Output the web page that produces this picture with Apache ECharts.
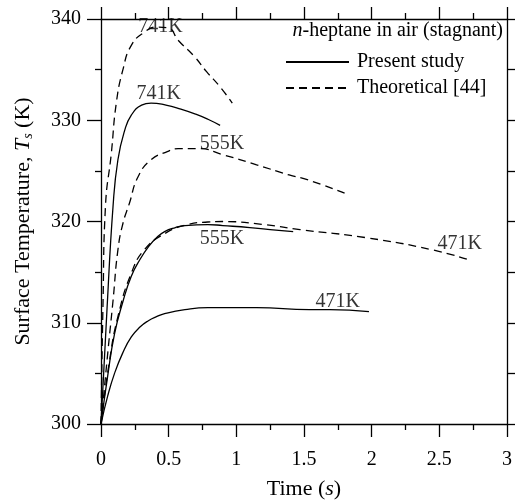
<!DOCTYPE html>
<html>
<head>
<meta charset="utf-8">
<script src="https://cdn.jsdelivr.net/npm/echarts@6/dist/echarts.min.js"></script>
<style>
  html, body { margin: 0; padding: 0; background: #fff; }
  #chart { width: 515px; height: 500px; }
</style>
</head>
<body>
<div id="chart"></div>
<script>
// surface temperature curves [time (s), Ts (K)]
var present741 = [[0,300],[0.045,311.5],[0.089,321.5],[0.125,326.1],[0.175,329],[0.224,330.5],[0.30,331.5],[0.37,331.7],[0.48,331.5],[0.59,331.1],[0.70,330.6],[0.79,330.1],[0.88,329.5]];
var theory741 = [[0,300],[0.015,312],[0.033,321.5],[0.076,326.7],[0.113,331.7],[0.162,335],[0.224,337.4],[0.32,338.7],[0.41,339.2],[0.50,339.1],[0.57,337.9],[0.69,336.3],[0.78,334.8],[0.88,333.3],[0.97,331.7]];
var present555 = [[0,300],[0.05,304.8],[0.1,308.9],[0.16,312],[0.224,314.6],[0.29,316.3],[0.35,317.5],[0.41,318.4],[0.47,319],[0.55,319.4],[0.62,319.6],[0.79,319.7],[0.9,319.6],[1.1,319.4],[1.25,319.2],[1.42,319.0]];
var theory555 = [[0,300],[0.052,307.3],[0.089,312.2],[0.125,317.2],[0.162,319.8],[0.21,321.8],[0.273,324.4],[0.37,326.1],[0.49,326.9],[0.57,327.2],[0.72,327.2],[0.9,326.6],[1.15,325.6],[1.39,324.6],[1.53,324.1],[1.8,322.8]];
var present471 = [[0,300],[0.05,302.8],[0.1,305],[0.16,307],[0.224,308.6],[0.29,309.6],[0.35,310.2],[0.41,310.6],[0.47,310.9],[0.62,311.3],[0.79,311.5],[1.15,311.5],[1.54,311.3],[1.69,311.3],[1.98,311.1]];
var theory471 = [[0,300],[0.06,306],[0.125,310.6],[0.224,314.9],[0.32,317.2],[0.47,318.8],[0.64,319.7],[0.79,319.95],[0.9,320.0],[1.2,319.7],[1.47,319.2],[1.96,318.4],[2.45,317.2],[2.72,316.2]];

// curve labels (text, time, temperature)
var curveLabelText = ['741K', '741K', '555K', '555K', '471K', '471K'];
var curveLabelX = [0.44, 0.427, 0.893, 0.893, 2.65, 1.75];
var curveLabelY = [339.2, 332.6, 327.7, 318.3, 317.8, 312.1];

var xTicks = { min: 0, max: 3, interval: 0.5 };
var yTicks = { min: 300, max: 340, interval: 10 };

var FONT = 'Liberation Serif';
var INK = '#000';

function lineSeries(name, data, dashed) {
  return {
    name: name,
    type: 'line',
    data: data,
    symbol: 'none',
    showSymbol: false,
    smooth: 0.5,
    color: INK,
    lineStyle: { color: INK, width: 1.3, type: dashed ? [8, 5] : 'solid' },
    silent: true
  };
}

var labelData = [];
for (var i = 0; i < curveLabelText.length; i++) {
  labelData.push({ value: [curveLabelX[i], curveLabelY[i]], name: curveLabelText[i] });
}

var chart = echarts.init(document.getElementById('chart'), null, { renderer: 'canvas' });

var tickLine = { color: INK, width: 1.3 };

var option = {
  backgroundColor: '#fff',
  animation: false,
  grid: { left: 101, right: 8, top: 19, bottom: 76, outerBoundsMode: 'none', containLabel: false },
  title: {
    text: '{i|n}-heptane in air (stagnant)',
    right: 12,
    top: 21,
    padding: 0,
    textStyle: {
      fontFamily: FONT, fontSize: 20, fontWeight: 'normal', color: INK,
      rich: { i: { fontFamily: FONT, fontSize: 20, fontStyle: 'italic', color: INK } }
    }
  },
  legend: {
    orient: 'vertical',
    left: 285,
    top: 52,
    padding: 0,
    itemWidth: 63,
    itemHeight: 14,
    itemGap: 6,
    itemStyle: { opacity: 0 },
    data: ['Present study', 'Theoretical [44]'],
    textStyle: { fontFamily: FONT, fontSize: 20, color: INK, padding: [0, 0, 0, 3] }
  },
  xAxis: [
    {
      type: 'value', position: 'bottom',
      min: xTicks.min, max: xTicks.max, interval: xTicks.interval,
      name: 'Time ({i|s})', nameLocation: 'middle', nameGap: 54,
      nameTextStyle: {
        fontFamily: FONT, fontSize: 22, color: INK,
        rich: { i: { fontFamily: FONT, fontSize: 22, fontStyle: 'italic', color: INK } }
      },
      axisLine: { onZero: false, lineStyle: tickLine },
      axisTick: { length: 13, lineStyle: tickLine },
      minorTick: { show: true, splitNumber: 2, length: 6, lineStyle: tickLine },
      splitLine: { show: false },
      axisLabel: { margin: 26, fontFamily: FONT, fontSize: 20, color: INK }
    },
    {
      type: 'value', position: 'top',
      min: xTicks.min, max: xTicks.max, interval: xTicks.interval,
      axisLine: { onZero: false, lineStyle: tickLine },
      axisTick: { length: 12, lineStyle: tickLine },
      minorTick: { show: true, splitNumber: 2, length: 6, lineStyle: tickLine },
      splitLine: { show: false },
      axisLabel: { show: false }
    }
  ],
  yAxis: [
    {
      type: 'value', position: 'left',
      min: yTicks.min, max: yTicks.max, interval: yTicks.interval,
      name: '{n|Surface Temperature, }{i|T}{s|s}{n| (K)}',
      nameLocation: 'middle', nameGap: 66,
      nameTextStyle: {
        fontFamily: FONT, fontSize: 22, color: INK,
        rich: {
          n: { fontFamily: FONT, fontSize: 22, color: INK },
          i: { fontFamily: FONT, fontSize: 22, fontStyle: 'italic', color: INK },
          s: { fontFamily: FONT, fontSize: 14, fontStyle: 'italic', color: INK, padding: [10, 0, 0, 0] }
        }
      },
      axisLine: { onZero: false, lineStyle: tickLine },
      axisTick: { length: 14, lineStyle: tickLine },
      minorTick: { show: true, splitNumber: 2, length: 6, lineStyle: tickLine },
      splitLine: { show: false },
      axisLabel: { margin: 20, fontFamily: FONT, fontSize: 20, color: INK }
    },
    {
      type: 'value', position: 'right',
      min: yTicks.min, max: yTicks.max, interval: yTicks.interval,
      axisLine: { onZero: false, lineStyle: tickLine },
      axisTick: { length: 8, lineStyle: tickLine },
      minorTick: { show: true, splitNumber: 2, length: 8, lineStyle: tickLine },
      splitLine: { show: false },
      axisLabel: { show: false }
    }
  ],
  series: [
    lineSeries('Present study', present741, false),
    lineSeries('Theoretical [44]', theory741, true),
    lineSeries('Present study', present555, false),
    lineSeries('Theoretical [44]', theory555, true),
    lineSeries('Present study', present471, false),
    lineSeries('Theoretical [44]', theory471, true),
    {
      name: 'labels',
      type: 'scatter',
      data: labelData,
      symbolSize: 0,
      silent: true,
      label: {
        show: true,
        position: 'inside',
        formatter: function (p) { return p.name; },
        fontFamily: FONT, fontSize: 20, color: INK
      }
    }
  ]
};

chart.setOption(option);
</script>
</body>
</html>
